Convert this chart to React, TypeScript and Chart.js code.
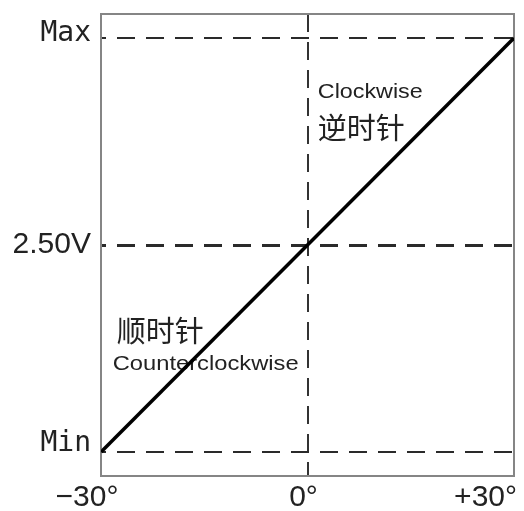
import React, { useEffect, useRef } from "react";
import { Chart, registerables } from "chart.js";

Chart.register(...registerables);

// Data
const angleDeg: number[] = [-30, 30];
const outputV: number[] = [0, 5];
const xTickValues: number[] = [-30, 0, 30];
const xTickLabels: string[] = ["−30°", "0°", "+30°"];
const yTickValues: number[] = [0, 2.5, 5];
const yTickLabels: string[] = ["Min", "2.50V", "Max"];
const noteTexts: string[] = ["Clockwise", "逆时针", "顺时针", "Counterclockwise"];
const noteX: number[] = [1.5, 1.5, -27.7, -28.3];
const noteY: number[] = [4.35, 3.91, 1.46, 1.06];
const noteFonts: string[] = [
  "21px 'Liberation Sans', Arial, sans-serif",
  "29px 'Noto Sans CJK SC', sans-serif",
  "29px 'Noto Sans CJK SC', sans-serif",
  "21px 'Liberation Sans', Arial, sans-serif",
];
const noteScaleX: number[] = [1.11, 1.0, 1.0, 1.13];

// styling of tick labels (per-label alignment)
const xLabelAlign: string[] = ["center", "center", "right"];
const xLabelShift: number[] = [-14, -4, 3];
const yLabelShift: number[] = [-8, 0, -4];
const yLabelFonts: string[] = [
  "28px 'DejaVu Sans Mono', monospace",
  "30px 'Liberation Sans', Arial, sans-serif",
  "28px 'DejaVu Sans Mono', monospace",
];

const frameAndNotes = {
  id: "frameAndNotes",
  beforeDatasetsDraw(chart: any) {
    const { ctx, chartArea, scales } = chart;
    ctx.save();
    ctx.strokeStyle = "#858585";
    ctx.lineWidth = 2;
    ctx.setLineDash([]);
    ctx.strokeRect(chartArea.left, chartArea.top, chartArea.right - chartArea.left, chartArea.bottom - chartArea.top);
    ctx.fillStyle = "#222";
    ctx.textBaseline = "middle";
    ctx.textAlign = "left";
    for (let i = 0; i < noteTexts.length; i++) {
      const px = scales.x.getPixelForValue(noteX[i]);
      const py = scales.y.getPixelForValue(noteY[i]);
      ctx.save();
      ctx.translate(px, py);
      ctx.scale(noteScaleX[i], 1);
      ctx.font = noteFonts[i];
      ctx.fillText(noteTexts[i], 0, 0);
      ctx.restore();
    }
    // y-axis tick labels
    ctx.textAlign = "right";
    ctx.textBaseline = "middle";
    for (let i = 0; i < yTickValues.length; i++) {
      const py = scales.y.getPixelForValue(yTickValues[i]);
      ctx.font = yLabelFonts[i];
      ctx.fillText(yTickLabels[i], chartArea.left - 10, py + yLabelShift[i]);
    }
    // x-axis tick labels
    ctx.font = "30px 'Liberation Sans', Arial, sans-serif";
    ctx.textBaseline = "alphabetic";
    for (let i = 0; i < xTickValues.length; i++) {
      const px = scales.x.getPixelForValue(xTickValues[i]);
      ctx.textAlign = xLabelAlign[i];
      ctx.fillText(xTickLabels[i], px + xLabelShift[i], chartArea.bottom + 30);
    }
    ctx.restore();
  },
};

export default function App() {
  const ref = useRef<HTMLCanvasElement | null>(null);
  useEffect(() => {
    if (!ref.current) return;
    const chart = new Chart(ref.current, {
      type: "scatter",
      data: {
        datasets: [
          {
            data: angleDeg.map((x, i) => ({ x, y: outputV[i] })),
            showLine: true,
            borderColor: "#000",
            borderWidth: 3.5,
            pointRadius: 0,
            fill: false,
          },
        ],
      },
      plugins: [frameAndNotes],
      options: {
        animation: false,
        responsive: false,
        layout: { padding: { top: 14, right: 10, left: 0, bottom: 0 } },
        plugins: { legend: { display: false }, tooltip: { enabled: false } },
        scales: {
          x: {
            type: "linear",
            min: -30,
            max: 30,
            afterBuildTicks: (s: any) => {
              s.ticks = xTickValues.map((v) => ({ value: v }));
            },
            afterFit: (s: any) => {
              s.height = 35;
              s.paddingLeft = 0;
              s.paddingRight = 0;
            },
            grid: {
              drawTicks: false,
              color: (c: any) => (c.tick && c.tick.value === 0 ? "#333" : "rgba(0,0,0,0)"),
              lineWidth: 2,
            },
            border: { display: false, dash: [18, 10], dashOffset: 0 },
            ticks: { display: false },
          },
          y: {
            type: "linear",
            min: -0.29,
            max: 5.29,
            afterBuildTicks: (s: any) => {
              s.ticks = yTickValues.map((v) => ({ value: v }));
            },
            afterFit: (s: any) => {
              s.width = 101;
              s.paddingTop = 0;
              s.paddingBottom = 0;
            },
            grid: {
              drawTicks: false,
              color: "#2a2a2a",
              lineWidth: (c: any) => (c.tick && c.tick.value === 2.5 ? 3 : 2),
            },
            border: { display: false, dash: [18, 11], dashOffset: 13 },
            ticks: { display: false },
          },
        },
      } as any,
    });
    return () => chart.destroy();
  }, []);
  return (
    <div style={{ position: "absolute", left: 0, top: 0, width: 524, height: 511, background: "#fff" }}>
      <canvas ref={ref} width={524} height={511} style={{ display: "block" }} />
    </div>
  );
}
